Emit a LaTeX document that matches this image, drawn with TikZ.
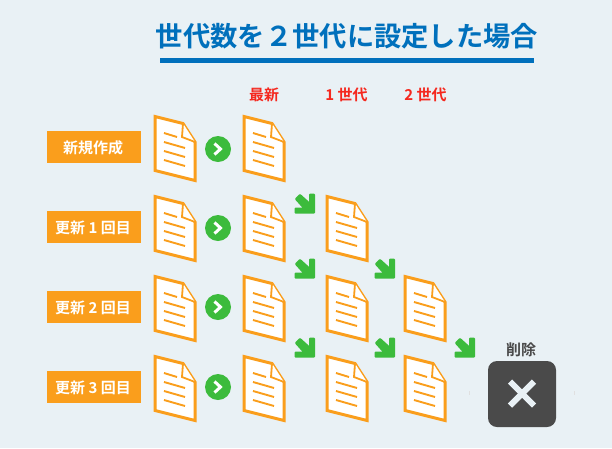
\documentclass[tikz,border=0pt]{standalone}
\usepackage{fontspec}
\setmainfont{Noto Sans CJK JP}[BoldFont={Noto Sans CJK JP Bold}]
\definecolor{bgc}{HTML}{E9F1F5}
\definecolor{orgc}{HTML}{FA9E1C}
\definecolor{grnc}{HTML}{3CBB3C}
\definecolor{bluc}{HTML}{0070BC}
\definecolor{redc}{HTML}{F5281E}
\definecolor{dkc}{HTML}{4A4A4A}
\tikzset{
  x=1pt,y=-1pt,
  labelbox/.style={fill=orgc,text=white,font=\bfseries\fontsize{15}{15}\selectfont,minimum width=94pt,minimum height=32pt,inner sep=0pt,text depth=0pt},
  header/.style={text=redc,font=\bfseries\fontsize{15}{15}\selectfont,inner sep=0pt},
  docline/.style={orgc,line width=1.9pt},
  docedge/.style={draw=orgc,line width=3pt,fill=white,line join=miter},
  circ/.style={circle,fill=grnc,minimum size=26pt,inner sep=0pt},
  chev/.style={white,line width=3pt},
  garrow/.style={fill=grnc,draw=grnc,line width=2pt,line join=round}
}
\newcommand{\docicon}[3]{%
  \begin{scope}[shift={(#1,#2)}]
    \coordinate (#3) at (20,33);
    \draw[docedge] (0,0.5) -- (28,7.5) -- (40,26) -- (40,64.5) -- (0,54.5) -- cycle;
    \draw[orgc,line width=1.8pt,fill=white] (28,7.5) -- (27,21) -- (40,26);
    \draw[docline] (9,17) -- (22,21);
    \draw[docline] (9,26) -- (30,32);
    \draw[docline] (9,35) -- (30,41);
    \draw[docline] (9,44) -- (30,50);
  \end{scope}}
\newcommand{\garr}[2]{%
  \begin{scope}[shift={(#1,#2)}]
    \draw[garrow] (9,-8.5) -- (9,9.5) -- (-9.5,9.5) -- (-9.5,5.5) -- (-0.5,5.5) -- (-9,-4) -- (-5,-8) -- (5,1) -- (5,-8.5) -- cycle;
  \end{scope}}
\newcommand{\rowchev}[2]{%
  \node[circ] (#2) at (218,#1) {};
  \draw[chev] (214.5,#1-5.5) -- (220.5,#1) -- (214.5,#1+5.5);}
\begin{document}
\begin{tikzpicture}
\useasboundingbox (0,0) rectangle (612,448);
\fill[bgc] (0,0) rectangle (612,448);
\node[text=bluc,font=\bfseries\fontsize{27.3}{27}\selectfont,inner sep=0pt] (title) at (347,36) {世代数を２世代に設定した場合};
\fill[bluc] (160,58) rectangle (534,63);
\node[header] (h0) at (264,94.5) {最新};
\node[header] (h1) at (346.5,94.5) {1 世代};
\node[header] (h2) at (425.5,94.5) {2 世代};
\node[labelbox] (l0) at (94,147) {\hspace*{-2pt}新規作成};
\node[labelbox] (l1) at (94,227) {\hspace*{-2pt}更新 1 回目};
\node[labelbox] (l2) at (94,307) {\hspace*{-2pt}更新 2 回目};
\node[labelbox] (l3) at (94,387) {\hspace*{-2pt}更新 3 回目};
\docicon{155}{116}{a0}\docicon{244}{116}{b0}
\docicon{155}{196}{a1}\docicon{244}{196}{b1}\docicon{327}{196}{c1}
\docicon{155}{276}{a2}\docicon{244}{276}{b2}\docicon{327}{276}{c2}\docicon{405}{276}{d2}
\docicon{155}{356}{a3}\docicon{244}{356}{b3}\docicon{327}{356}{c3}\docicon{405}{356}{d3}
\rowchev{149}{k0}\rowchev{228}{k1}\rowchev{307}{k2}\rowchev{387}{k3}
\garr{305}{203}\garr{305}{268}\garr{305}{347}\garr{385}{268}\garr{385}{347}\garr{465}{347}
\node[font=\bfseries\fontsize{15}{15}\selectfont,text=dkc,inner sep=0pt] (del) at (521,349.5) {削除};
\node[fill=dkc,rounded corners=9pt,minimum width=68pt,minimum height=66pt,inner sep=0pt] (box) at (522,394) {};
\draw[bgc,line width=6pt] (510,381.5) -- (534,405.5);
\draw[bgc,line width=6pt] (534,381.5) -- (510,405.5);
\draw[black!12,line width=.4pt] (469.5,391) -- (469.5,395);
\draw[black!12,line width=.4pt] (574.5,391) -- (574.5,395);
\end{tikzpicture}
\end{document}
